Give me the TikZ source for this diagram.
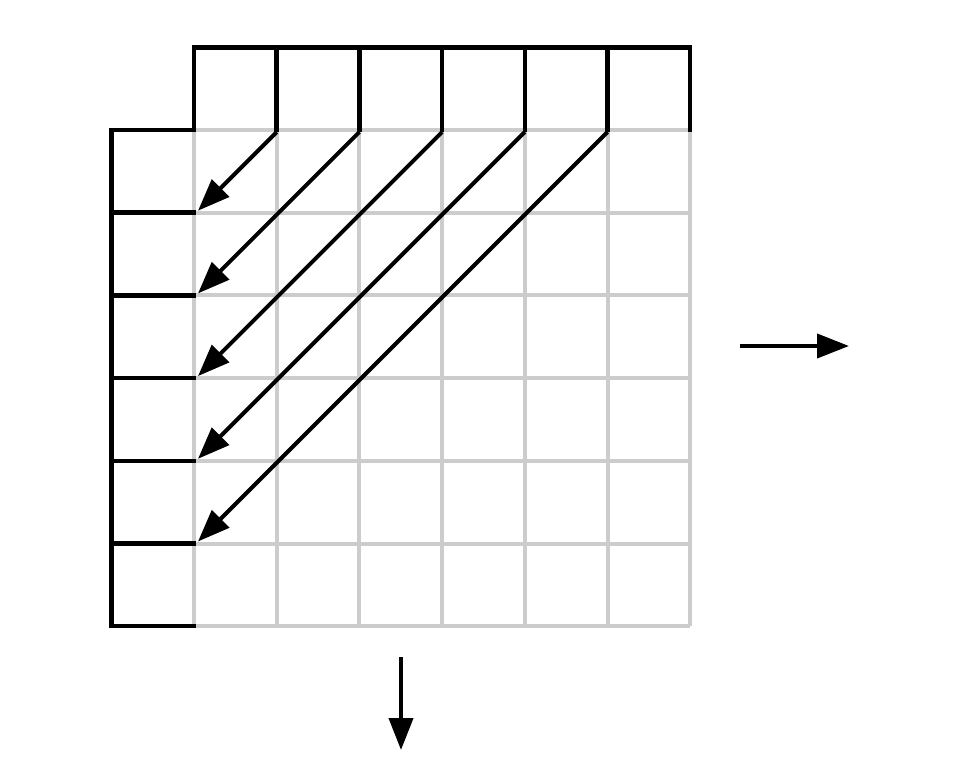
\documentclass[tikz,border=0pt]{standalone}
\usetikzlibrary{arrows.meta}
\begin{document}
\begin{tikzpicture}[x=1pt,y=-1pt,
  gridline/.style={draw=black!20, line width=4pt},
  blackline/.style={draw=black, line width=4.5pt, line cap=rect},
  arr/.style={draw=black, line width=4pt, -{Triangle[length=32pt,width=24pt]}}]
\useasboundingbox (0,0) rectangle (960,770);
\def\xo{194}\def\yo{130}\def\c{82.7}
% gray grid
\foreach \k in {0,...,6}{
  \draw[gridline] (\xo+\k*\c,\yo) -- (\xo+\k*\c,\yo+6*\c);
  \draw[gridline] (\xo,\yo+\k*\c) -- (\xo+6*\c,\yo+\k*\c);
}
% top row
\draw[blackline] (\xo,\yo-\c) -- (\xo+6*\c,\yo-\c);
\foreach \k in {0,...,6}
  \draw[blackline] (\xo+\k*\c,\yo-\c) -- (\xo+\k*\c,\yo);
% left column
\draw[blackline] (\xo-\c,\yo) -- (\xo-\c,\yo+6*\c);
\foreach \k in {0,...,6}
  \draw[blackline] (\xo-\c,\yo+\k*\c) -- (\xo,\yo+\k*\c);
% diagonal arrows
\foreach \k in {1,...,5}{
  \coordinate (s\k) at (\xo+\k*\c,\yo+2);
  \coordinate (e\k) at (\xo+4,\yo+\k*\c-2);
  \draw[arr] (s\k) -- (e\k);
}
% side arrows
\coordinate (ra) at (740,346);
\coordinate (rb) at (849,346);
\draw[arr] (ra) -- (rb);
\coordinate (da) at (401,657);
\coordinate (db) at (401,750);
\draw[arr] (da) -- (db);
\end{tikzpicture}
\end{document}
